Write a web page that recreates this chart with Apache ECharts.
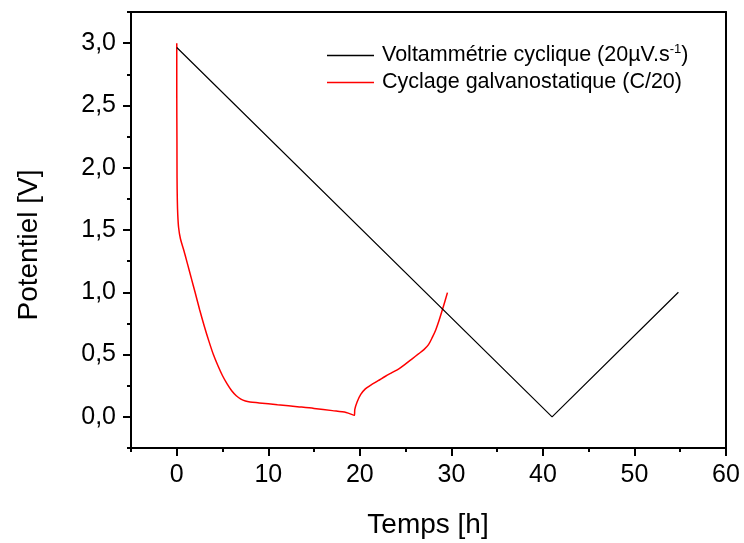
<!DOCTYPE html>
<html>
<head>
<meta charset="utf-8">
<script src="https://cdn.jsdelivr.net/npm/echarts@6/dist/echarts.min.js"></script>
<style>
html,body{margin:0;padding:0;background:#fff;}
#chart{width:744px;height:543px;}
</style>
</head>
<body>
<div id="chart"></div>
<script>
// ---- data ----
const seriesNames = ['Voltammétrie cyclique (20µV.s-1)', 'Cyclage galvanostatique (C/20)'];
const voltammetry = [[0, 2.965], [41.0, 0.0], [54.8, 1.0]];
const galvano = [
  [0, 3.0], [0.0, 2.6], [0.02, 2.2], [0.03, 1.92], [0.06, 1.74], [0.11, 1.62],
  [0.2, 1.52], [0.4, 1.43], [0.8, 1.33], [1.2, 1.22], [1.6, 1.11], [2.0, 1.0],
  [2.5, 0.86], [3.0, 0.73], [3.5, 0.61], [4.0, 0.5], [4.5, 0.41], [5.0, 0.33],
  [5.5, 0.265], [6.0, 0.21], [6.5, 0.17], [7.0, 0.143], [7.5, 0.127], [8.0, 0.119],
  [9.0, 0.112], [11.0, 0.097], [13.4, 0.08], [15.0, 0.068], [17.0, 0.05], [18.5, 0.035],
  [19.4, 0.012], [19.45, 0.06], [19.7, 0.12], [20.1, 0.18], [20.6, 0.225], [21.2, 0.255],
  [22.0, 0.29], [22.8, 0.326], [23.5, 0.355], [24.3, 0.388], [25.0, 0.425], [25.75, 0.468],
  [26.4, 0.505], [27.0, 0.54], [27.5, 0.58], [27.93, 0.64], [28.3, 0.70], [28.66, 0.775],
  [29.1, 0.88], [29.57, 0.997]
];
const xMajorTicks = [0, 10, 20, 30, 40, 50, 60];
const xMinorTicks = [-5, 5, 15, 25, 35, 45, 55];
const yMajorTicks = [0, 0.5, 1.0, 1.5, 2.0, 2.5, 3.0];
const yMinorTicks = [-0.25, 0.25, 0.75, 1.25, 1.75, 2.25, 2.75, 3.25];
const xTitle = 'Temps [h]';
const yTitle = 'Potentiel [V]';

const FONT = 'Liberation Sans, Arial, sans-serif';
const chart = echarts.init(document.getElementById('chart'), null, {renderer: 'canvas'});
const axisLineStyle = {color: '#000', width: 2};
const option = {
  animation: false,
  backgroundColor: '#fff',
  grid: {left: 131, right: 18, top: 12, bottom: 95, containLabel: false},
  legend: {
    orient: 'vertical',
    left: 327,
    top: 43,
    padding: 0,
    itemWidth: 47,
    itemHeight: 1.5,
    itemGap: 5,
    icon: 'rect',
    data: [
      {name: seriesNames[0], itemStyle: {color: '#000'}},
      {name: seriesNames[1], itemStyle: {color: '#ff0000'}}
    ],
    formatter: function (n) {
      if (n === seriesNames[0]) return 'Voltammétrie cyclique (20µV.s{sup|-1})';
      return n;
    },
    textStyle: {
      fontFamily: FONT, fontSize: 21.5, color: '#000', padding: [0, 0, 0, 3],
      rich: {sup: {fontFamily: FONT, fontSize: 13, color: '#000', padding: [0, 0, 12, 0]}}
    }
  },
  xAxis: [
    {
      type: 'value', min: -5, max: 60, position: 'bottom',
      axisLine: {show: true, onZero: false, lineStyle: axisLineStyle},
      axisTick: {show: true, inside: false, length: 8, lineStyle: {color: '#000', width: 2}, customValues: xMajorTicks},
      axisLabel: {show: true, margin: 15, fontFamily: FONT, fontSize: 25, color: '#000', customValues: xMajorTicks},
      splitLine: {show: false}
    },
    {
      type: 'value', min: -5, max: 60, position: 'bottom',
      axisLine: {show: false, onZero: false},
      axisTick: {show: true, inside: false, length: 4, lineStyle: {color: '#000', width: 2}, customValues: xMinorTicks},
      axisLabel: {show: false},
      splitLine: {show: false}
    },
    {
      type: 'value', min: -5, max: 60, position: 'top',
      axisLine: {show: true, onZero: false, lineStyle: axisLineStyle},
      axisTick: {show: false}, axisLabel: {show: false}, splitLine: {show: false}
    }
  ],
  yAxis: [
    {
      type: 'value', min: -0.25, max: 3.25, position: 'left',
      axisLine: {show: true, onZero: false, lineStyle: axisLineStyle},
      axisTick: {show: true, inside: false, length: 8, lineStyle: {color: '#000', width: 2}, customValues: yMajorTicks},
      axisLabel: {
        show: true, margin: 15, fontFamily: FONT, fontSize: 25, color: '#000', customValues: yMajorTicks,
        formatter: v => v.toFixed(1).replace('.', ',')
      },
      splitLine: {show: false}
    },
    {
      type: 'value', min: -0.25, max: 3.25, position: 'left',
      axisLine: {show: false, onZero: false},
      axisTick: {show: true, inside: false, length: 4, lineStyle: {color: '#000', width: 2}, customValues: yMinorTicks},
      axisLabel: {show: false}, splitLine: {show: false}
    },
    {
      type: 'value', min: -0.25, max: 3.25, position: 'right',
      axisLine: {show: true, onZero: false, lineStyle: axisLineStyle},
      axisTick: {show: false}, axisLabel: {show: false}, splitLine: {show: false}
    }
  ],
  graphic: [
    {
      type: 'text', x: 428, y: 525,
      style: {text: xTitle, fontFamily: FONT, fontSize: 28, fill: '#000', align: 'center', verticalAlign: 'middle'}
    },
    {
      type: 'text', x: 29, y: 245, rotation: Math.PI / 2,
      style: {text: yTitle, fontFamily: FONT, fontSize: 28, fill: '#000', align: 'center', verticalAlign: 'middle'}
    }
  ],
  series: [
    {
      name: seriesNames[0], type: 'line', xAxisIndex: 0, yAxisIndex: 0,
      data: voltammetry, showSymbol: false, symbol: 'none',
      lineStyle: {color: '#000', width: 1.2}, itemStyle: {color: '#000'}, z: 3
    },
    {
      name: seriesNames[1], type: 'line', xAxisIndex: 0, yAxisIndex: 0,
      data: galvano, showSymbol: false, symbol: 'none', smooth: 0.3,
      lineStyle: {color: '#ff0000', width: 1.5}, itemStyle: {color: '#ff0000'}, z: 2
    }
  ]
};
chart.setOption(option);
</script>
</body>
</html>
